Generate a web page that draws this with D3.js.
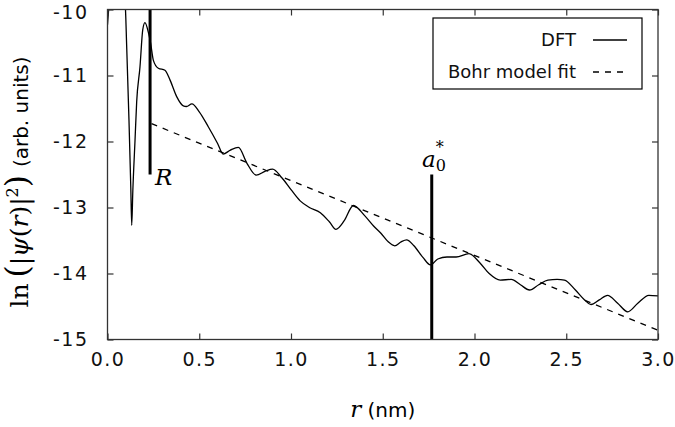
<!DOCTYPE html>
<html><head><meta charset="utf-8">
<script src="https://cdn.jsdelivr.net/npm/d3@7"></script>
<style>body{margin:0;background:#fff}</style>
</head><body><svg id="c" width="675" height="427"></svg>
<script>
// ---- data ----
const dftR = [0, 0.01, 0.05, 0.095, 0.105, 0.117, 0.127, 0.132, 0.138, 0.15, 0.159, 0.177, 0.192, 0.204, 0.222, 0.235, 0.25, 0.277, 0.313, 0.341, 0.377, 0.413, 0.43, 0.46, 0.5, 0.55, 0.6, 0.63, 0.67, 0.713, 0.76, 0.81, 0.86, 0.9, 0.95, 1.0, 1.05, 1.1, 1.16, 1.21, 1.245, 1.29, 1.34, 1.4, 1.45, 1.49, 1.53, 1.565, 1.6, 1.63, 1.67, 1.72, 1.76, 1.8, 1.85, 1.9, 1.97, 2.03, 2.08, 2.14, 2.2, 2.25, 2.3, 2.35, 2.4, 2.45, 2.49, 2.55, 2.6, 2.635, 2.68, 2.725, 2.78, 2.835, 2.89, 2.95, 3.0];
const dftV = [-10.23, -9.9, -9.5, -9.85, -10.6, -11.67, -12.7, -13.27, -12.75, -11.98, -11.4, -10.87, -10.31, -10.2, -10.34, -10.51, -10.77, -10.89, -10.92, -11.07, -11.32, -11.46, -11.47, -11.43, -11.55, -11.78, -12.03, -12.19, -12.13, -12.09, -12.33, -12.51, -12.45, -12.42, -12.55, -12.73, -12.9, -13.0, -13.08, -13.22, -13.33, -13.2, -12.97, -13.12, -13.28, -13.39, -13.52, -13.58, -13.52, -13.49, -13.58, -13.76, -13.87, -13.78, -13.75, -13.75, -13.70, -13.84, -14.0, -14.1, -14.09, -14.17, -14.25, -14.17, -14.1, -14.09, -14.1, -14.25, -14.4, -14.47, -14.4, -14.33, -14.45, -14.58, -14.45, -14.33, -14.34];
const fitR = [0.24, 3.0];
const fitV = [-11.73, -14.86];
const markerR = [0.232, 1.767];
const markerFrom = [-10, -12.5];
const markerTo = [-12.5, -15];
const xTickValues = [0, 0.5, 1.0, 1.5, 2.0, 2.5, 3.0];
const xTickLabels = ["0.0", "0.5", "1.0", "1.5", "2.0", "2.5", "3.0"];
const yTickValues = [-10, -11, -12, -13, -14, -15];
const yTickLabels = ["-10", "-11", "-12", "-13", "-14", "-15"];
const legendLabels = ["DFT", "Bohr model fit"];

// ---- layout ----
const L = 107.5, R = 658, T = 9.5, B = 339.5;
const svg = d3.select("#c");
const x = d3.scaleLinear().domain([0, 3]).range([L, R]);
const y = d3.scaleLinear().domain([-15, -10]).range([B, T]);
const sans = "'DejaVu Sans', sans-serif";
const serif = "'DejaVu Serif', 'Liberation Serif', serif";

svg.append("defs").append("clipPath").attr("id", "pc")
  .append("rect").attr("x", L).attr("y", T).attr("width", R - L).attr("height", B - T);

const g = svg.append("g").attr("clip-path", "url(#pc)");
const pts = dftR.map((r, i) => [r, dftV[i]]);
g.append("path").datum(pts)
  .attr("d", d3.line().x(d => x(d[0])).y(d => y(d[1])).curve(d3.curveMonotoneX))
  .attr("fill", "none").attr("stroke", "#000").attr("stroke-width", 1.3);
g.append("path").datum(fitR.map((r, i) => [r, fitV[i]]))
  .attr("d", d3.line().x(d => x(d[0])).y(d => y(d[1])))
  .attr("fill", "none").attr("stroke", "#000").attr("stroke-width", 1.3)
  .attr("stroke-dasharray", "6,6");
markerR.forEach((r, i) => {
  g.append("line").attr("x1", x(r)).attr("x2", x(r))
    .attr("y1", y(markerFrom[i])).attr("y2", y(markerTo[i]))
    .attr("stroke", "#000").attr("stroke-width", 3);
});

// ---- axes (ticks inward on all sides) ----
const tk = 6;
const axB = svg.append("g").attr("transform", `translate(0,${B})`)
  .call(d3.axisBottom(x).tickValues(xTickValues).tickFormat((d, i) => xTickLabels[i]).tickSizeInner(-tk).tickSizeOuter(0).tickPadding(13));
const axT = svg.append("g").attr("transform", `translate(0,${T})`)
  .call(d3.axisTop(x).tickValues(xTickValues).tickFormat("").tickSizeInner(-tk).tickSizeOuter(0));
const axL = svg.append("g").attr("transform", `translate(${L},0)`)
  .call(d3.axisLeft(y).tickValues(yTickValues).tickFormat((d, i) => yTickLabels[i]).tickSizeInner(-tk).tickSizeOuter(0).tickPadding(19));
const axR = svg.append("g").attr("transform", `translate(${R},0)`)
  .call(d3.axisRight(y).tickValues(yTickValues).tickFormat("").tickSizeInner(-tk).tickSizeOuter(0));
[axB, axT, axL, axR].forEach(a => {
  a.select(".domain").remove();
  a.selectAll("line").attr("stroke", "#333").attr("stroke-width", 1.2);
  a.selectAll("text").attr("font-family", sans).attr("font-size", 19).attr("fill", "#111").attr("letter-spacing", 1.5);
});
axL.selectAll(".tick text").filter(d => d === -10).attr("dy", "0.45em");
svg.append("rect").attr("x", L).attr("y", T).attr("width", R - L).attr("height", B - T)
  .attr("fill", "none").attr("stroke", "#333").attr("stroke-width", 1.3);

// ---- legend ----
const lg = svg.append("g");
lg.append("rect").attr("x", 433).attr("y", 18).attr("width", 209).attr("height", 71)
  .attr("fill", "#fff").attr("stroke", "#000").attr("stroke-width", 1.2);
legendLabels.forEach((t, i) => {
  const yy = 40 + i * 32;
  lg.append("text").attr("x", 576).attr("y", yy).attr("dy", "0.35em").attr("text-anchor", "end")
    .attr("font-family", sans).attr("font-size", 18).attr("fill", "#111").text(t);
  lg.append("line").attr("x1", 593).attr("x2", 627).attr("y1", yy).attr("y2", yy)
    .attr("stroke", "#000").attr("stroke-width", 1.3)
    .attr("stroke-dasharray", i === 1 ? "6,6" : null);
});

// ---- annotations ----
svg.append("text").attr("x", x(markerR[0]) + 5).attr("y", y(-12.5) + 10)
  .attr("font-family", serif).attr("font-style", "italic").attr("font-size", 23).text("R");
const ax0 = x(markerR[1]);
svg.append("text").attr("x", ax0 + 4).attr("y", y(-12.5) - 8)
  .attr("text-anchor", "end").attr("font-family", serif).attr("font-style", "italic").attr("font-size", 23).text("a");
svg.append("text").attr("x", ax0 + 4).attr("y", y(-12.5) - 4)
  .attr("font-family", serif).attr("font-size", 16).text("0");
svg.append("text").attr("x", ax0 + 4).attr("y", y(-12.5) - 22)
  .attr("font-family", serif).attr("font-size", 16).text("*");

// ---- axis titles ----
const xl = svg.append("text").attr("x", x(1.5)).attr("y", 417).attr("text-anchor", "middle")
  .attr("font-size", 20);
xl.append("tspan").attr("font-family", serif).attr("font-style", "italic").attr("font-size", 23).text("r");
xl.append("tspan").attr("font-family", sans).text(" (nm)");

const yl = svg.append("text").attr("transform", `translate(28,182) rotate(-90)`)
  .attr("text-anchor", "middle").attr("font-size", 20);
const m = 25;
yl.append("tspan").attr("font-family", serif).attr("font-size", m).text("ln");
yl.append("tspan").attr("font-family", serif).attr("font-size", 31).attr("dx", 6).text("(");
yl.append("tspan").attr("font-family", serif).attr("font-size", m).text("|");
yl.append("tspan").attr("font-family", serif).attr("font-style", "italic").attr("font-size", m).text("ψ");
yl.append("tspan").attr("font-family", serif).attr("font-size", m).text("(");
yl.append("tspan").attr("font-family", serif).attr("font-style", "italic").attr("font-size", m).text("r");
yl.append("tspan").attr("font-family", serif).attr("font-size", m).text(")|");
yl.append("tspan").attr("font-family", serif).attr("font-size", 16).attr("dy", -10).text("2");
yl.append("tspan").attr("font-family", serif).attr("font-size", 31).attr("dy", 10).text(")");
yl.append("tspan").attr("font-family", sans).attr("dx", 8).text("(arb. units)");
</script></body></html>
